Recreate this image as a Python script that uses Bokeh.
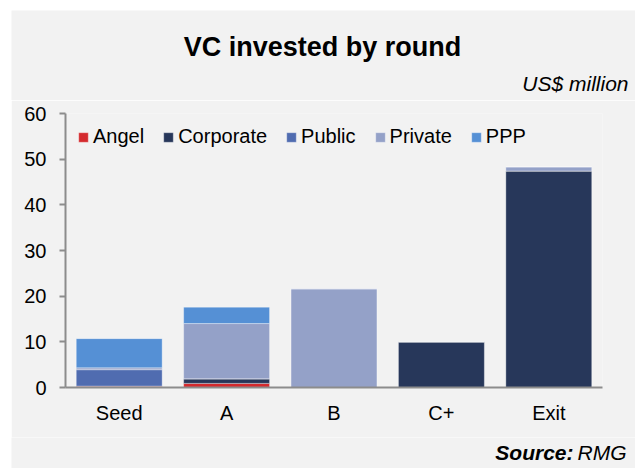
from bokeh.plotting import figure
from bokeh.models import FactorRange, Range1d, Label, ColumnDataSource, FixedTicker, Spacer
from bokeh.layouts import column, row
from bokeh.embed import file_html
from bokeh.resources import INLINE

rounds = ["Seed", "A", "B", "C+", "Exit"]
series = ["Angel", "Corporate", "Public", "Private", "PPP"]
angel = [0.3, 0.9, 0.0, 0.0, 0.0]
corporate = [0.0, 1.0, 0.0, 10.0, 47.4]
public = [3.6, 0.0, 0.0, 0.0, 0.0]
private = [0.4, 12.1, 21.6, 0.0, 0.9]
ppp = [6.4, 3.6, 0.0, 0.0, 0.0]
colors = ["#d42a2e", "#27375a", "#506cb0", "#94a1c8", "#5590d5"]
y_ticks = [0, 10, 20, 30, 40, 50, 60]

FONT = "Liberation Sans"
BG = "#f2f2f2"
AX = "#8c8c8c"
W = 624


def no_align(f):
    if "frame_align" in f.properties():
        f.frame_align = False


def text_panel(h):
    f = figure(width=W, height=h, x_range=Range1d(0, W), y_range=Range1d(0, h),
               output_backend="svg", toolbar_location=None, min_border=0)
    f.axis.visible = False
    f.grid.visible = False
    f.outline_line_color = None
    f.background_fill_color = BG
    f.border_fill_color = BG
    no_align(f)
    return f


top = text_panel(90)
top.add_layout(Label(x=311, y=54, text="VC invested by round", text_font=FONT,
                     text_font_size="27px", text_font_style="bold", text_color="black",
                     text_align="center", text_baseline="middle"))
top.add_layout(Label(x=617, y=17, text="US$ million", text_font=FONT,
                     text_font_size="21px", text_font_style="italic", text_color="black",
                     text_align="right", text_baseline="middle"))

src = ColumnDataSource(dict(round=rounds, Angel=angel, Corporate=corporate,
                            Public=public, Private=private, PPP=ppp))

p = figure(width=W, height=337, x_range=FactorRange(*rounds, range_padding=0),
           y_range=Range1d(0, 60), output_backend="svg", toolbar_location=None,
           min_border_left=54, min_border_right=33, min_border_top=13, min_border_bottom=50)
no_align(p)
p.background_fill_color = BG
p.border_fill_color = BG
p.outline_line_color = None
p.xgrid.visible = False
p.ygrid.visible = False

p.vbar_stack(series, x="round", width=0.8, color=colors, source=src,
             line_color="white", line_alpha=0.35, line_width=1,
             legend_label=series)

p.yaxis.ticker = FixedTicker(ticks=y_ticks)
for ax in (p.xaxis[0], p.yaxis[0]):
    ax.axis_line_color = AX
    ax.axis_line_width = 2
    ax.major_tick_line_color = AX
    ax.major_tick_line_width = 2
    ax.minor_tick_line_color = None
    ax.major_label_text_font = FONT
    ax.major_label_text_font_size = "20px"
    ax.major_label_text_color = "black"
p.yaxis.major_tick_out = 6
p.yaxis.major_tick_in = 0
p.yaxis.major_label_standoff = 13
p.xaxis.major_tick_line_color = None
p.xaxis.major_label_standoff = 8

lg = p.legend[0]
lg.orientation = "horizontal"
lg.location = "top_left"
lg.background_fill_alpha = 0
lg.border_line_color = None
lg.label_text_font = FONT
lg.label_text_font_size = "20px"
lg.label_text_color = "black"
lg.glyph_width = 12
lg.glyph_height = 12
lg.label_standoff = 4
lg.spacing = 18
lg.margin = 12
lg.padding = 0

bottom = text_panel(31)
bottom.add_layout(Label(x=562, y=16, text="Source:", text_font=FONT,
                        text_font_size="21px", text_font_style="bold italic", text_color="black",
                        text_align="right", text_baseline="middle"))
bottom.add_layout(Label(x=566, y=16, text="RMG", text_font=FONT,
                        text_font_size="21px", text_font_style="italic", text_color="black",
                        text_align="left", text_baseline="middle"))

layout = row(Spacer(width=11, height=468),
             column(Spacer(width=W, height=10), top, p, bottom, spacing=0),
             spacing=0)

open("out.html", "w").write(file_html(layout, INLINE))
